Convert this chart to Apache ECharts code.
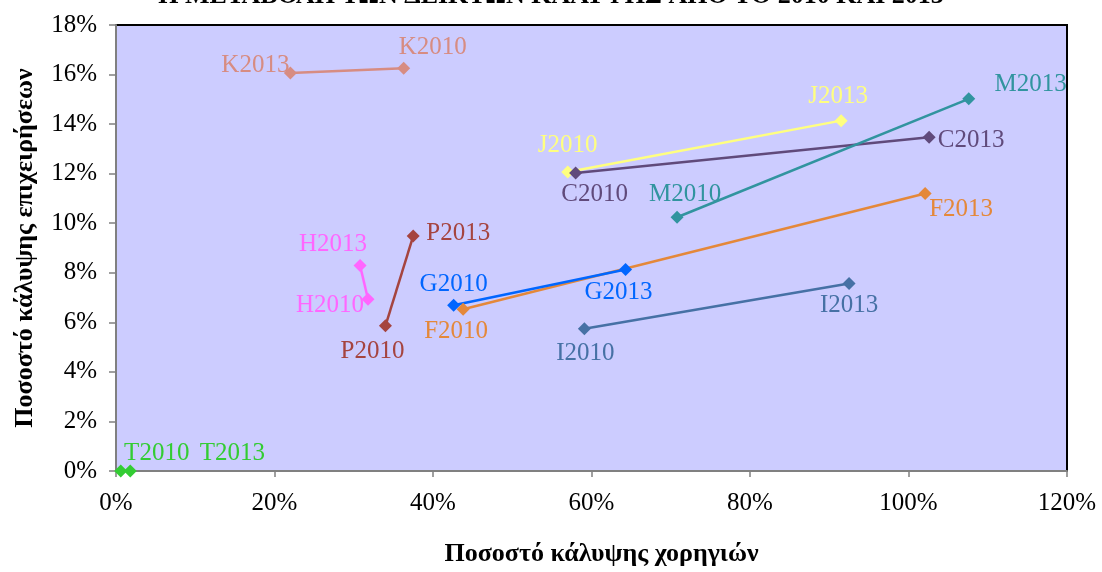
<!DOCTYPE html>
<html>
<head>
<meta charset="utf-8">
<script src="https://cdn.jsdelivr.net/npm/echarts@6/dist/echarts.min.js"></script>
<style>html,body{margin:0;padding:0;background:#fff}#c{width:1102px;height:572px}</style>
</head>
<body>
<div id="c"></div>
<script>
// ---- data ----
const seriesNames = ['K','J','C','M','F','G','I','H','P','T'];
const x2010 = [36.3, 57.0, 58.0, 70.8, 43.8, 42.6, 59.1, 31.8, 34.0, 0.6];
const y2010 = [16.25, 12.07, 12.03, 10.24, 6.53, 6.69, 5.74, 6.93, 5.86, 0.0];
const x2013 = [22.0, 91.5, 102.6, 107.6, 102.1, 64.3, 92.5, 30.8, 37.5, 1.8];
const y2013 = [16.06, 14.14, 13.47, 15.02, 11.20, 8.13, 7.57, 8.29, 9.48, 0.0];
const xTicks = ['0%','20%','40%','60%','80%','100%','120%'];
const yTicks = ['0%','2%','4%','6%','8%','10%','12%','14%','16%','18%'];
const titleText = 'Η ΜΕΤΑΒΟΛΗ ΤΩΝ ΔΕΙΚΤΩΝ ΚΑΛΥΨΗΣ ΑΠΟ ΤΟ 2010 ΚΑΙ 2013';
const xTitle = 'Ποσοστό κάλυψης χορηγιών';
const yTitle = 'Ποσοστό κάλυψης επιχειρήσεων';

// ---- styles ----
const colors = ['#D78C82','#FFFF80','#604A7B','#31949F','#E4883A','#0066FF','#4671A5','#FF66FF','#A5443F','#33CC33'];
const off2010 = [[29,-21],[0,-26],[19,22],[8,-23],[-7,22],[0,-21],[1,25],[-38,6],[-13,26],[36,-18]];
const off2013 = [[-35,-8],[-3,-24],[42,3],[62,-14],[36,16],[-7,23],[0,22],[-27,-21],[45,-3],[102,-18]];
const FONT = '"Liberation Serif","Times New Roman",serif';
const SYM = 13;
const lbl = (text, off, color) => ({
  show: true, formatter: text,
  position: [SYM / 2 + off[0], SYM / 2 + off[1]],
  align: 'center', verticalAlign: 'middle',
  color: color, fontFamily: FONT, fontSize: 25
});

const series = seriesNames.map((n, i) => ({
  name: n,
  type: 'line',
  symbol: 'diamond',
  symbolSize: SYM,
  color: colors[i],
  lineStyle: { color: colors[i], width: 2.5 },
  itemStyle: { color: colors[i] },
  emphasis: { disabled: true },
  z: 3,
  labelLayout: { hideOverlap: false },
  data: [
    { value: [x2010[i], y2010[i]], label: lbl(n + '2010', off2010[i], colors[i]) },
    { value: [x2013[i], y2013[i]], label: lbl(n + '2013', off2013[i], colors[i]) }
  ]
}));

const chart = echarts.init(document.getElementById('c'), null, { renderer: 'canvas' });
chart.setOption({
  animation: false,
  title: {
    text: titleText, left: 'center', top: -22,
    textStyle: { fontFamily: FONT, fontWeight: 'bold', fontSize: 26, color: '#000' }
  },
  grid: { left: 116, right: 35, top: 25, bottom: 95, show: true, backgroundColor: '#CCCCFF', borderColor: '#000', borderWidth: 2 },
  xAxis: {
    type: 'value', min: 0, max: 120, interval: 20,
    name: xTitle, nameLocation: 'middle', nameGap: 70,
    nameTextStyle: { fontFamily: FONT, fontWeight: 'bold', fontSize: 26, color: '#000', padding: [0,0,0,20] },
    axisLine: { show: true, lineStyle: { color: '#808080', width: 2 } },
    axisTick: { show: true, inside: false, length: 6, lineStyle: { color: '#808080', width: 1.5 } },
    splitLine: { show: false },
    axisLabel: { fontFamily: FONT, fontSize: 25, color: '#000', margin: 20, formatter: v => xTicks[Math.round(v/20)] }
  },
  yAxis: {
    type: 'value', min: 0, max: 18, interval: 2,
    name: yTitle, nameLocation: 'middle', nameGap: 78, nameRotate: 90,
    nameTextStyle: { fontFamily: FONT, fontWeight: 'bold', fontSize: 26, color: '#000' },
    axisLine: { show: true, lineStyle: { color: '#808080', width: 2 } },
    axisTick: { show: true, inside: false, length: 7, lineStyle: { color: '#808080', width: 1.5 } },
    splitLine: { show: false },
    axisLabel: { fontFamily: FONT, fontSize: 25, color: '#000', margin: 19, formatter: v => yTicks[Math.round(v/2)] }
  },
  series: series
});
</script>
</body>
</html>
